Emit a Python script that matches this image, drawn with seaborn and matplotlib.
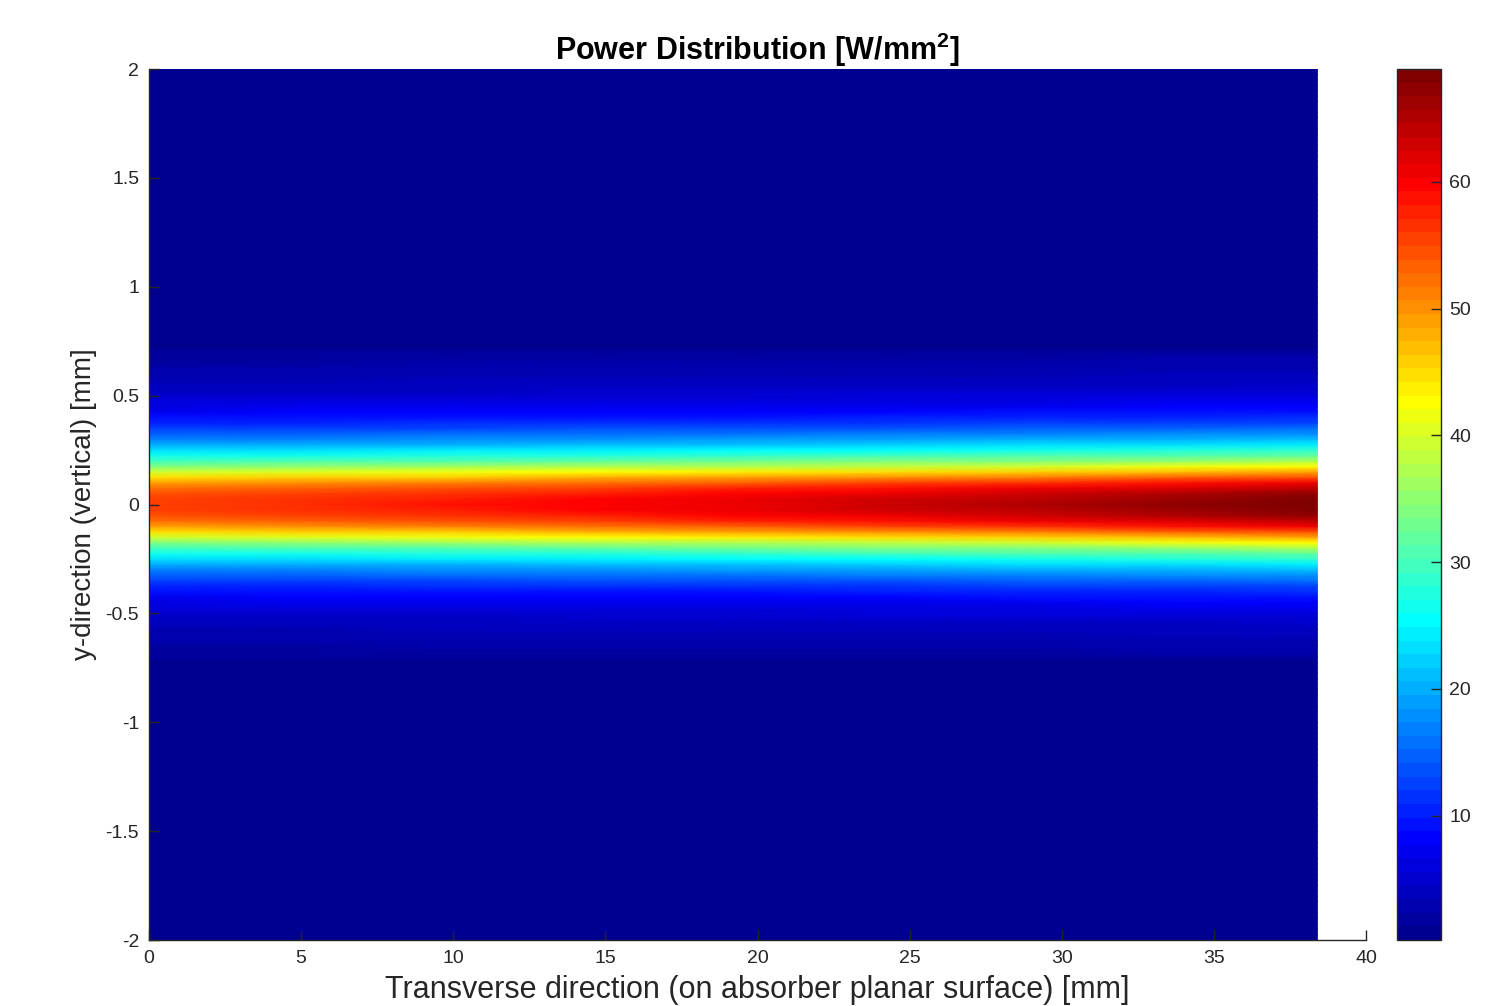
import numpy as np
import matplotlib
matplotlib.use("Agg")
import matplotlib.pyplot as plt
from matplotlib.colors import ListedColormap
import seaborn as sns

# peak power on the centre line (y = 0) along the absorber, W/mm^2
X_MM = [0.0, 4.8, 9.6, 14.4, 19.2, 24.0, 28.8, 33.6, 38.4]
PEAK = [56.0, 57.0, 58.3, 59.8, 61.3, 63.0, 64.8, 66.8, 68.9]

# vertical profile read at x ~ 15 mm, for y = 0, 0.025, ..., 0.7 mm (symmetric)
Y_STEP = 0.025
PROFILE = [61.0, 60.6, 59.3, 57.0, 53.5, 48.5, 43.0, 37.5, 32.5, 28.5,
           25.0, 21.5, 18.5, 16.0, 13.5, 11.5, 9.8, 8.4, 7.2, 6.2,
           5.4, 4.7, 4.1, 3.6, 3.2, 2.8, 2.5, 2.2, 2.0]
TAIL = 0.2      # |y| > 0.7 mm
Y_LIM = 2.0
X_TICKS = [0, 5, 10, 15, 20, 25, 30, 35, 40]
Y_TICKS = [-2, -1.5, -1, -0.5, 0, 0.5, 1, 1.5, 2]
CB_TICKS = [10, 20, 30, 40, 50, 60]

AX_COLOR = "#262626"


def matlab_jet(m=64):
    # same table as MATLAB's jet(m)
    n = int(np.ceil(m / 4))
    u = np.concatenate([np.arange(1, n + 1) / n, np.ones(n - 1), np.arange(n, 0, -1) / n])
    g = int(np.ceil(n / 2)) - int(m % 4 == 1) + np.arange(1, len(u) + 1)
    r, b = g + n, g - n
    J = np.zeros((m, 3))
    J[r[r <= m] - 1, 0] = u[r <= m]
    J[g[g <= m] - 1, 1] = u[g <= m]
    J[b[b > 0] - 1, 2] = u[b > 0]
    return ListedColormap(J)


plt.rcParams["font.family"] = ["Liberation Sans", "DejaVu Sans"]
plt.rcParams["mathtext.fontset"] = "custom"
plt.rcParams["mathtext.bf"] = "Liberation Sans:bold"

# grid: rows = y from -2 to 2, columns = X_MM
nrows = int(round(2 * Y_LIM / Y_STEP)) + 1
k = np.abs(np.arange(nrows) - (nrows - 1) // 2)
shape = np.array(PROFILE) / PROFILE[0]
inside = k < len(PROFILE)
Z = np.full((nrows, len(X_MM)), TAIL)
Z[inside, :] = np.outer(shape[k[inside]], PEAK)

x_step = X_MM[1] - X_MM[0]

fig = plt.figure(figsize=(15, 10.06), dpi=100)
ax = fig.add_axes([0.0993, 0.0656, 0.8114, 0.8658])
cax = fig.add_axes([0.9313, 0.0656, 0.0293, 0.8658])

sns.heatmap(Z, ax=ax, cbar_ax=cax, cmap=matlab_jet(64),
            vmin=Z.min(), vmax=Z.max(),
            xticklabels=False, yticklabels=False,
            shading="gouraud", rasterized=True)

ax.set_xlim(0, X_TICKS[-1] / x_step)
ax.set_ylim(0, nrows - 1)
ax.set_xticks([v / x_step for v in X_TICKS], labels=[f"{v:g}" for v in X_TICKS])
ax.set_yticks([(v + Y_LIM) / Y_STEP for v in Y_TICKS], labels=[f"{v:g}" for v in Y_TICKS])
ax.tick_params(direction="in", length=7, width=1, color=AX_COLOR,
               labelcolor=AX_COLOR, labelsize=14, pad=7)
for side in ["left", "bottom"]:
    ax.spines[side].set_visible(True)
    ax.spines[side].set_color(AX_COLOR)
    ax.spines[side].set_linewidth(1)
for side in ["top", "right"]:
    ax.spines[side].set_visible(False)

ax.set_title(r"Power Distribution [W/mm$^{\mathbf{2}}$]", fontsize=22, fontweight="bold",
             color="black", pad=5)
ax.set_xlabel("Transverse direction (on absorber planar surface) [mm]",
              fontsize=22, color=AX_COLOR, labelpad=6)
ax.set_ylabel("y-direction (vertical) [mm]", fontsize=20, color=AX_COLOR, labelpad=6)

cb = ax.collections[0].colorbar
cb.outline.set_linewidth(1)
cb.outline.set_edgecolor(AX_COLOR)
cb.set_ticks(CB_TICKS, labels=[str(v) for v in CB_TICKS])
cax.yaxis.set_ticks_position("right")
cax.tick_params(direction="in", length=7, width=1, color=AX_COLOR,
                labelcolor=AX_COLOR, labelsize=14, pad=6)

fig.savefig("out.png", dpi=100)
